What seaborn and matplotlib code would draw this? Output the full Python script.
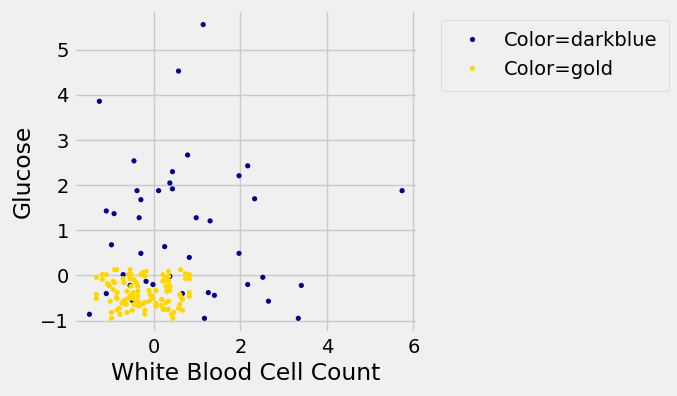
import pandas as pd
import matplotlib
matplotlib.use("Agg")
import matplotlib.pyplot as plt
import seaborn as sns

# Data
blue_wbc = [1.14, 0.57, -1.26, -0.46, 0.78, 0.43, 1.97, 2.17, 0.37, -0.39, 0.11, 0.43,
            -0.30, 2.33, 5.74, -1.10, -0.92, -0.34, 0.98, 1.30, -0.98, 0.25, -0.30, 1.97,
            0.82, 2.52, 2.17, 3.41, 1.26, 1.40, 2.65, 1.17, 3.34, -1.49, -1.10, -0.71,
            -0.55, -0.18, -0.02, 0.37, -0.50, 0.66]
blue_glucose = [5.56, 4.53, 3.86, 2.54, 2.67, 2.30, 2.21, 2.43, 2.05, 1.88, 1.88, 1.92,
                1.68, 1.70, 1.88, 1.43, 1.37, 1.28, 1.28, 1.21, 0.68, 0.64, 0.49, 0.49,
                0.40, -0.04, -0.20, -0.22, -0.38, -0.44, -0.57, -0.95, -0.95, -0.86, -0.40, 0.02,
                -0.22, -0.13, -0.20, -0.02, -0.55, -0.40]

gold_wbc = [-1.33, -1.19, -1.19, -1.10, -0.91, -0.86, -0.55, -0.18, 0.34, 0.62, 0.73, 0.82,
            0.73, 0.82, 0.21, 0.25, 0.34, 0.28, 0.21, 0.34, -0.71, -0.69, -0.59, -0.55,
            -0.53, -0.46, -0.41, -0.37, -0.30, -0.25, -0.21, -0.94, -0.91, -1.07, -1.03, -0.94,
            -0.85, -0.87, -1.01, -0.85, -1.33, -1.33, -0.98, -0.98, -0.78, -0.62, -0.50, -0.46,
            -0.37, -0.34, -0.30, -0.25, -0.21, -0.21, -0.21, -0.11, -0.09, -0.05, -0.02, -0.11,
            0.05, 0.05, 0.05, 0.18, 0.18, 0.21, 0.25, 0.28, 0.34, 0.37, 0.30, 0.28,
            0.37, 0.41, 0.44, 0.46, 0.34, 0.30, 0.57, 0.60, 0.66, 0.60, 0.64, 0.66,
            0.82, 0.82, -0.53, -0.48, -0.62, -0.71, -0.73, -0.64, -0.57, -0.80, -0.85, -0.41,
            -0.39, -0.55, -0.48, -0.37, -0.64, -0.48, -0.37]
gold_glucose = [-0.04, 0.02, -0.09, 0.02, 0.13, 0.13, 0.13, 0.09, 0.09, 0.13, 0.04, 0.02,
                -0.07, -0.07, 0.02, -0.07, -0.02, -0.11, -0.13, -0.13, -0.07, -0.16, 0.02, -0.07,
                0.02, -0.09, -0.16, -0.24, 0.02, 0.07, -0.02, -0.13, -0.16, -0.18, -0.23, -0.31,
                -0.38, -0.49, -0.57, -0.51, -0.42, -0.51, -0.82, -0.95, -0.86, -0.82, -0.77, -0.64,
                -0.57, -0.68, -0.64, -0.62, -0.60, -0.77, -0.86, -0.33, -0.42, -0.46, -0.51, -0.57,
                -0.33, -0.62, -0.68, -0.53, -0.66, -0.75, -0.75, -0.60, -0.57, -0.33, -0.35, -0.24,
                -0.24, -0.86, -0.95, -0.82, -0.75, -0.75, -0.73, -0.64, -0.53, -0.42, -0.49, -0.77,
                -0.38, -0.46, -0.24, -0.38, -0.35, -0.57, -0.62, -0.53, -0.51, -0.73, -0.77, -0.57,
                -0.66, -0.46, -0.42, -0.46, -0.64, -0.51, -0.35]

labels = ["Color=darkblue", "Color=gold"]
colors = ["darkblue", "gold"]

df = pd.DataFrame({
    "White Blood Cell Count": blue_wbc + gold_wbc,
    "Glucose": blue_glucose + gold_glucose,
    "Color": [labels[0]] * len(blue_wbc) + [labels[1]] * len(gold_wbc),
})

plt.style.use("fivethirtyeight")
fig = plt.figure(figsize=(6.77, 3.96), dpi=100)
ax = fig.add_axes([0.109, 0.159, 0.508, 0.816])

sns.scatterplot(data=df, x="White Blood Cell Count", y="Glucose", hue="Color",
                palette=dict(zip(labels, colors)), s=14, linewidth=0, ax=ax)

ax.set_xlabel("White Blood Cell Count")
ax.set_ylabel("Glucose")
ax.set_xticks([0, 2, 4, 6])
ax.set_yticks([-1, 0, 1, 2, 3, 4, 5])
ax.legend(loc="upper left", bbox_to_anchor=(1.04, 1.0), title=None,
          markerscale=1.0, borderpad=0.6, handletextpad=0.6)

fig.savefig("out.png", dpi=100)
